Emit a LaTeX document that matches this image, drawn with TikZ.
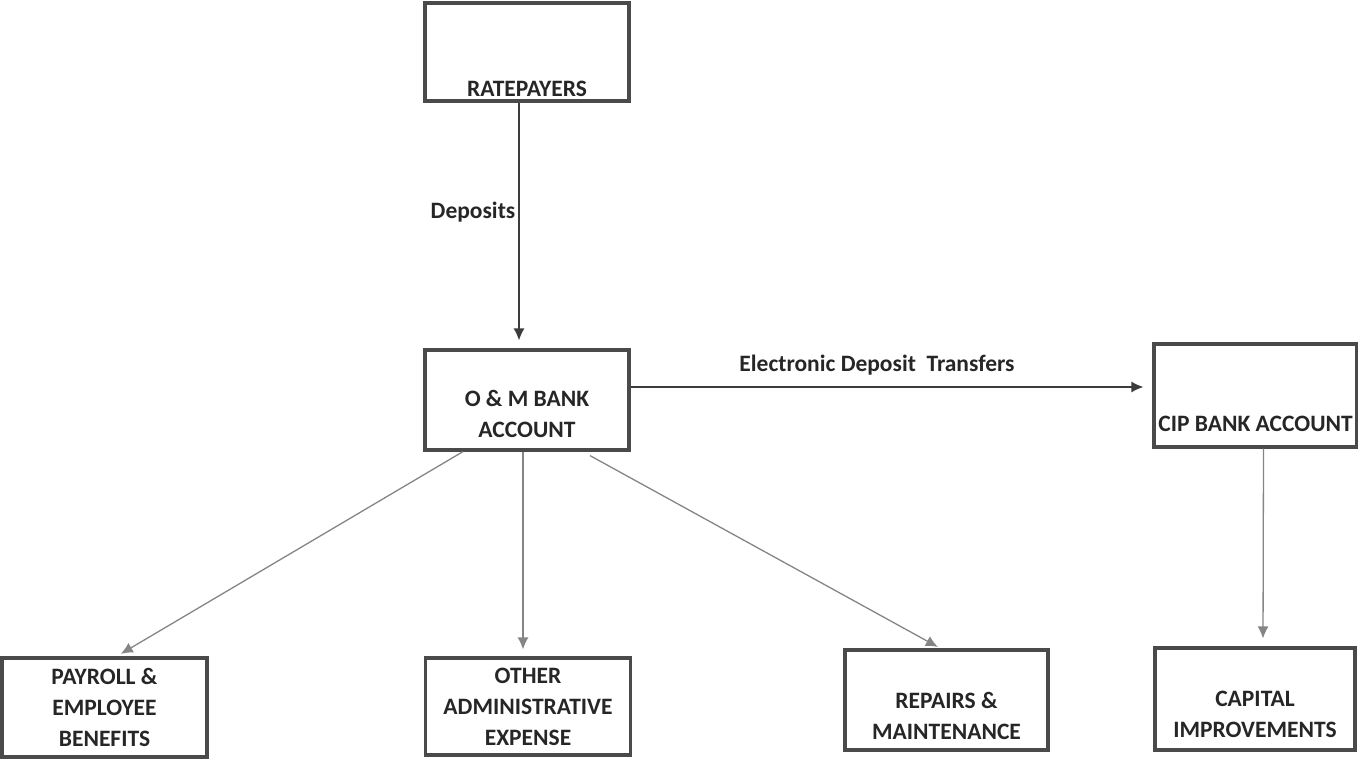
\documentclass[tikz,border=0pt]{standalone}
\usepackage{fontspec}
\setmainfont{Carlito}
\usetikzlibrary{arrows.meta}

\definecolor{boxgray}{HTML}{4A4A4A}
\definecolor{txtgray}{HTML}{262626}
\definecolor{arrgray}{HTML}{858585}

\begin{document}
\begin{tikzpicture}[x=1pt, y=-1pt,
  bx/.style={draw=boxgray, line width=3.2pt, minimum width=204pt, minimum height=100pt, inner sep=0pt},
  txt/.style={text=txtgray, font=\fontsize{23.5}{31}\selectfont\bfseries, align=center},
  flow/.style={draw=txtgray!90, line width=1.3pt, -{Latex[length=12pt,width=11pt]}},
  flowlt/.style={draw=arrgray, line width=1.3pt, -{Latex[length=12pt,width=11pt]}}]
  \useasboundingbox (0,0) rectangle (1358,759);

  \node[bx, minimum height=98pt, label={[txt, name=ratetxt, yshift=-37pt]center:RATEPAYERS}] (rate) at (527,52) {};
  \node[bx, label={[txt, name=omtxt, yshift=-14pt]center:O \& M BANK\\ACCOUNT}] (om) at (527,400) {};
  \node[bx, minimum width=203pt, minimum height=103pt, label={[txt, name=ciptxt, yshift=-28pt]center:CIP BANK ACCOUNT}] (cip) at (1255.5,395.5) {};

  \node[bx, minimum width=205pt, minimum height=99pt, label={[txt, name=paytxt, yshift=0pt]center:PAYROLL \&\\EMPLOYEE\\BENEFITS}] (pay) at (104.5,707.5) {};
  \node[bx, minimum width=205pt, minimum height=97pt, label={[txt, name=othtxt, yshift=0pt]center:OTHER\\ADMINISTRATIVE\\EXPENSE}] (oth) at (528,706.5) {};
  \node[bx, minimum width=203pt, label={[txt, name=reptxt, yshift=-16pt]center:REPAIRS \&\\MAINTENANCE}] (rep) at (946.5,700) {};
  \node[bx, minimum width=200pt, minimum height=102pt, label={[txt, name=captxt, yshift=-15pt]center:CAPITAL\\IMPROVEMENTS}] (cap) at (1255,699) {};

  \node[txt] (deplbl) at (473,212) {Deposits};
  \node[txt] (edtlbl) at (877,365) {Electronic Deposit\ \ Transfers};

  \draw[flow, shorten >=8pt] ([xshift=-8pt]rate.south) -- ([xshift=-8pt]om.north);
  \draw[flow, shorten >=9pt] ([yshift=13pt]om.east) -- ([yshift=8.5pt]cip.west);

  \draw[flowlt, shorten >=5pt] ([xshift=-64pt]om.south) -- ([xshift=12pt]pay.north);
  \draw[flowlt, shorten >=7pt] ([xshift=-4pt]om.south) -- ([xshift=-5pt]oth.north);
  \draw[flowlt, shorten >=3pt] ([xshift=63pt,yshift=-4pt]om.south) -- ([xshift=-6pt]rep.north);
  \draw[flowlt, shorten >=8pt] ([xshift=8pt]cip.south) -- ([xshift=8pt]cap.north);
\end{tikzpicture}
\end{document}
